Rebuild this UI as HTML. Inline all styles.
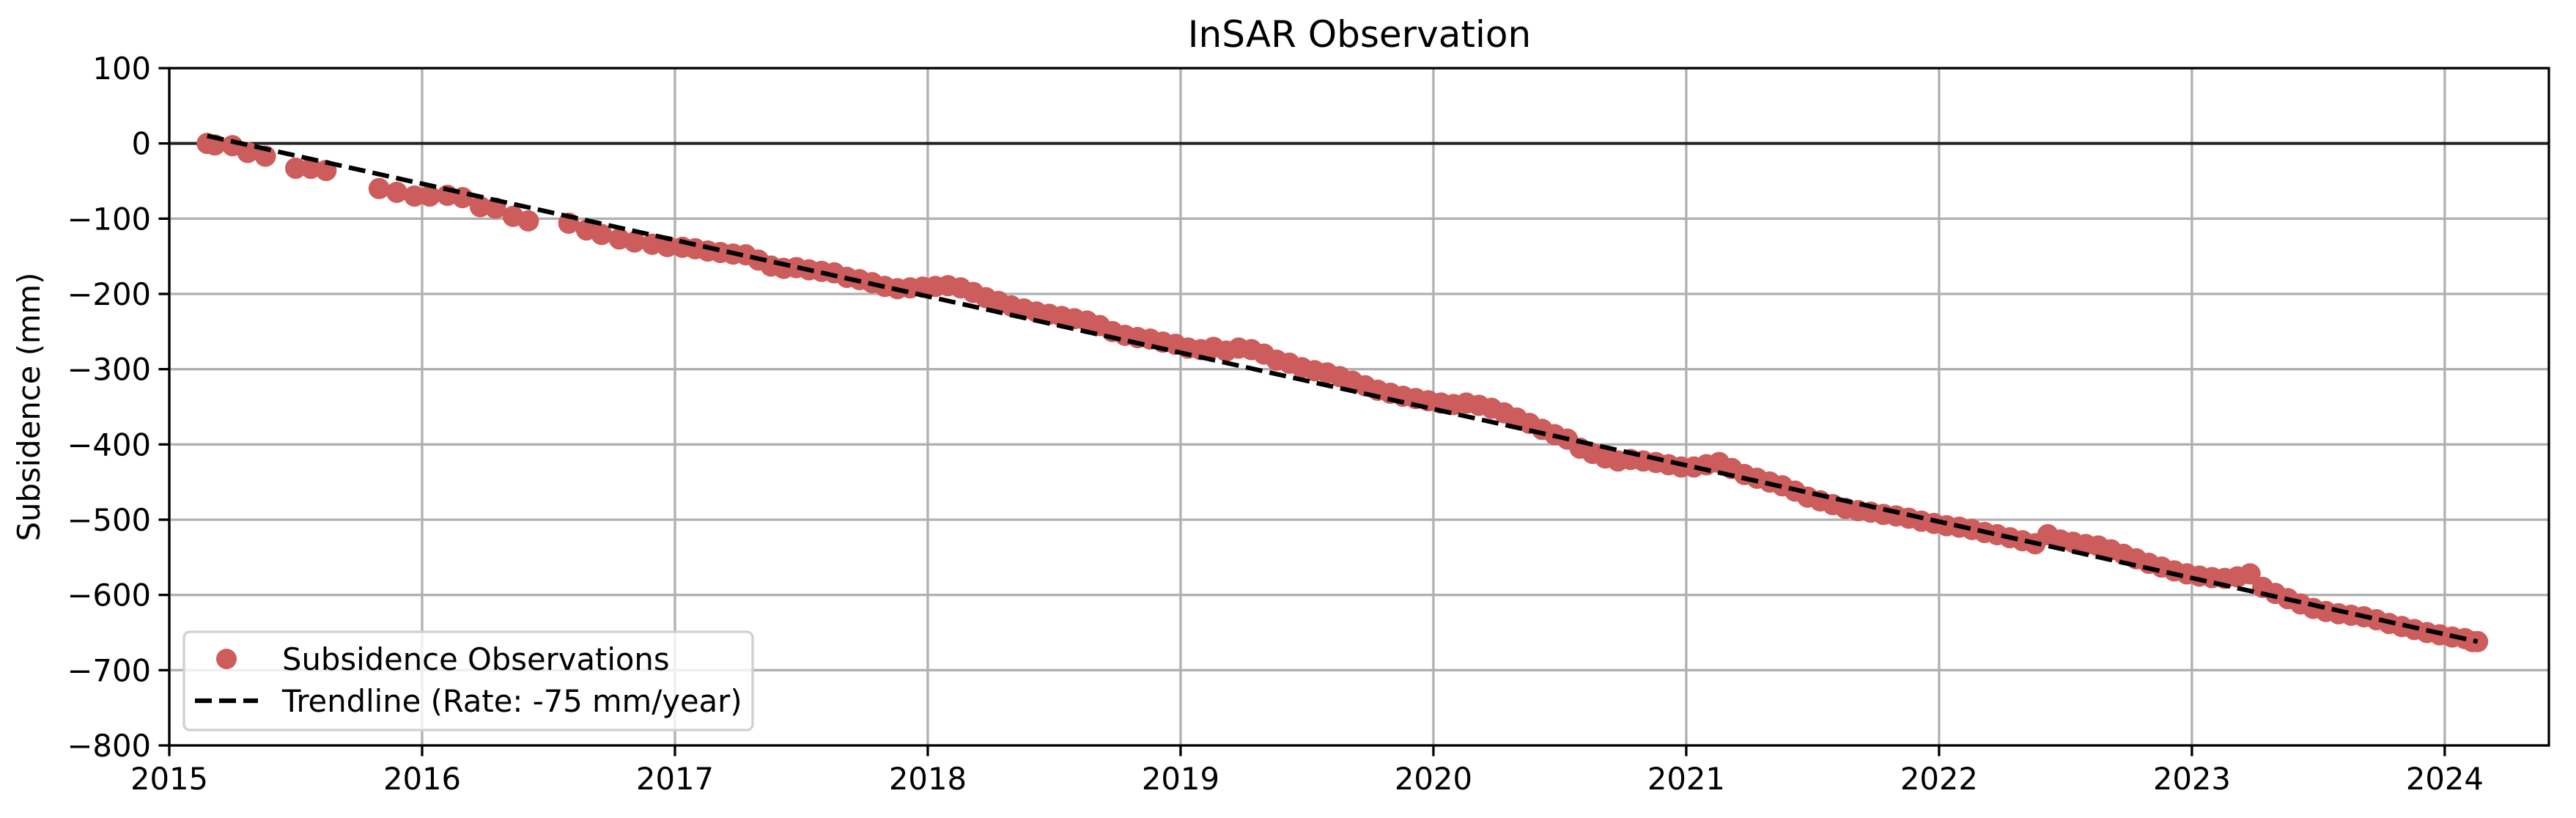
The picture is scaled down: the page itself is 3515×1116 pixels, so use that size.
<!DOCTYPE html>
<html><head><meta charset="utf-8"><style>
html,body{margin:0;padding:0;background:#fff;}
svg{display:block;font-family:"DejaVu Sans","Liberation Sans",sans-serif;}
</style></head><body>
<svg id="chart" width="3515" height="1116" viewBox="0 0 3515 1116" xmlns="http://www.w3.org/2000/svg">
<rect width="3515" height="1116" fill="#fff"/>
<g id="grid"></g>
<line id="zero" stroke="#222" stroke-width="4"/>
<g id="pts"></g>
<line id="trend" stroke="#000" stroke-width="6.2" stroke-dasharray="23,10"/>
<rect id="frame" fill="none" stroke="#000" stroke-width="3.3"/>
<g id="ticks"></g>
<text x="1855" y="64" font-size="50" text-anchor="middle">InSAR Observation</text>
<text transform="translate(54,555) rotate(-90)" font-size="41.7" text-anchor="middle">Subsidence (mm)</text>
<g>
<rect x="251" y="862" width="776" height="134" rx="8" fill="#fff" fill-opacity="0.8" stroke="#d0d0d0" stroke-width="3.3"/>
<circle cx="309" cy="899" r="14" fill="#cd5c5c"/>
<text x="385" y="914" font-size="41.7">Subsidence Observations</text>
<line x1="266" y1="956" x2="352" y2="956" stroke="#000" stroke-width="6.2" stroke-dasharray="23,10"/>
<text x="385" y="971" font-size="41.7">Trendline (Rate: -75 mm/year)</text>
</g>
</svg>
<script>
const xTicks = [2015,2016,2017,2018,2019,2020,2021,2022,2023,2024];
const yTicks = [100,0,-100,-200,-300,-400,-500,-600,-700,-800];
const obsYears = [2015.15,2015.18,2015.25,2015.31,2015.38,2015.50,2015.56,2015.62,2015.83,2015.90,2015.97,2016.03,2016.10,2016.16,2016.23,2016.29,2016.36,2016.42,2016.58,2016.65,2016.71,2016.78,2016.84,2016.91,2016.97,
2017.03,2017.08,2017.13,2017.18,2017.23,2017.28,2017.33,2017.38,2017.43,2017.48,2017.53,2017.58,2017.63,2017.68,2017.73,2017.78,2017.83,2017.88,2017.93,2017.98,2018.03,2018.08,2018.13,2018.18,2018.23,2018.28,2018.33,2018.38,2018.43,2018.48,2018.53,2018.58,2018.63,2018.68,2018.73,2018.78,2018.83,2018.88,2018.93,2018.98,
2019.03,2019.08,2019.13,2019.18,2019.23,2019.28,2019.33,2019.38,2019.43,2019.48,2019.53,2019.58,2019.63,2019.68,2019.73,2019.78,2019.83,2019.88,2019.93,2019.98,2020.03,2020.08,2020.13,2020.18,2020.23,2020.28,2020.33,2020.38,2020.43,2020.48,2020.53,2020.58,2020.63,2020.68,2020.73,2020.78,2020.83,2020.88,2020.93,2020.98,
2021.03,2021.08,2021.13,2021.18,2021.23,2021.28,2021.33,2021.38,2021.43,2021.48,2021.53,2021.58,2021.63,2021.68,2021.73,2021.78,2021.83,2021.88,2021.93,2021.98,2022.03,2022.08,2022.13,2022.18,2022.23,2022.28,2022.33,2022.38,2022.43,2022.48,2022.53,2022.58,2022.63,2022.68,2022.73,2022.78,2022.83,2022.88,2022.93,2022.98,
2023.03,2023.08,2023.13,2023.18,2023.23,2023.28,2023.33,2023.38,2023.43,2023.48,2023.53,2023.58,2023.63,2023.68,2023.73,2023.78,2023.83,2023.88,2023.93,2023.98,2024.03,2024.08,2024.11,2024.13];
const obsValues = [0,-2,-3,-12,-17,-33,-33,-36,-60,-65,-70,-70,-69,-72,-84,-86,-97,-103,-106,-115,-121,-127,-131,-134,-137,
-138,-140,-143,-145,-147,-148,-155,-163,-166,-165,-168,-170,-172,-178,-181,-185,-190,-193,-192,-191,-190,-189,-192,-198,-205,-210,-216,-220,-224,-227,-230,-233,-236,-242,-250,-255,-258,-260,-264,-267,
-272,-274,-271,-276,-272,-274,-280,-288,-292,-298,-302,-305,-310,-316,-322,-328,-332,-336,-339,-342,-345,-347,-345,-348,-352,-358,-365,-372,-380,-387,-393,-405,-412,-418,-422,-420,-422,-424,-427,-430,
-430,-427,-424,-432,-440,-445,-450,-455,-462,-470,-475,-480,-485,-488,-490,-493,-495,-498,-502,-505,-508,-510,-513,-517,-520,-524,-528,-532,-520,-527,-530,-533,-535,-540,-546,-552,-558,-563,-568,-572,
-575,-577,-578,-576,-572,-590,-598,-605,-612,-618,-622,-625,-627,-629,-633,-638,-642,-646,-650,-653,-656,-658,-662,-662];
const trendYears = [2015.15,2024.13];
const trendValues = [10,-662];

const L=231,R=3478,T=93,B=1017, X0=2015,X1=2024.412, Y0=100,Y1=-800;
const sx=v=>L+(v-X0)/(X1-X0)*(R-L);
const sy=v=>T+(Y0-v)/(Y0-Y1)*(B-T);
const NS='http://www.w3.org/2000/svg';
function mk(tag,attrs,parent){const e=document.createElementNS(NS,tag);for(const k in attrs)e.setAttribute(k,attrs[k]);parent.appendChild(e);return e;}
const grid=document.getElementById('grid'), ticks=document.getElementById('ticks'), pts=document.getElementById('pts');
xTicks.forEach(t=>{
  const x=sx(t);
  const g=mk('line',{x1:x,x2:x,y1:T,y2:B,stroke:'#b0b0b0','stroke-width':3.3},grid);
  
  
  const tk=mk('line',{x1:x,x2:x,y1:B,y2:B+14.6,stroke:'#000','stroke-width':3.3},ticks);
  
  
  const tx=mk('text',{x:x,y:1077,'font-size':41.7,'text-anchor':'middle'},ticks);
  tx.textContent=String(t);
  
  
});
yTicks.forEach(t=>{
  const y=sy(t);
  const g=mk('line',{x1:L,x2:R,y1:y,y2:y,stroke:'#b0b0b0','stroke-width':3.3},grid);
  
  
  const tk=mk('line',{x1:L-14.6,x2:L,y1:y,y2:y,stroke:'#000','stroke-width':3.3},ticks);
  
  
  const tx=mk('text',{x:L-25,y:y+15,'font-size':41.7,'text-anchor':'end'},ticks);
  tx.textContent=(t<0?'\u2212'+(-t):String(t));
  
  
});
const z=document.getElementById('zero');
z.setAttribute('x1',L);z.setAttribute('x2',R);z.setAttribute('y1',sy(0));z.setAttribute('y2',sy(0));
obsYears.forEach((yr,i)=>{
  const c=mk('circle',{cx:sx(yr),cy:sy(obsValues[i]),r:14.5,fill:'#cd5c5c'},pts);
  
  
});
const tr=document.getElementById('trend');
tr.setAttribute('x1',sx(trendYears[0]));tr.setAttribute('y1',sy(trendValues[0]));
tr.setAttribute('x2',sx(trendYears[1]));tr.setAttribute('y2',sy(trendValues[1]));
const f=document.getElementById('frame');
f.setAttribute('x',L);f.setAttribute('y',T);f.setAttribute('width',R-L);f.setAttribute('height',B-T);
</script>
</body></html>
